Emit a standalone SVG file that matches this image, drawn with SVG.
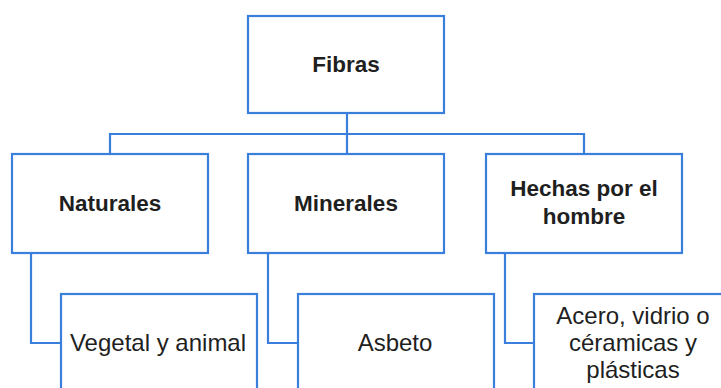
<svg xmlns="http://www.w3.org/2000/svg" width="721" height="388" viewBox="0 0 721 388">
<style>
.box{fill:#ffffff;stroke:#3b7fdc;stroke-width:2.2}
.con{fill:none;stroke:#3b7fdc;stroke-width:2.2}
text{font-family:"Liberation Sans",Arial,sans-serif;font-size:24px;fill:#1f1f1f;text-anchor:middle}
.b{font-weight:bold;font-size:22.5px}
</style>
<rect width="721" height="388" fill="#ffffff"/>
<g id="connectors">
<path class="con" d="M347 113 V154 M110 154 V134 H584 V154"/>
<path class="con" d="M31 253 V343 H61"/>
<path class="con" d="M268 253 V343 H298"/>
<path class="con" d="M505 253 V343 H534"/>
</g>
<g id="fibras"><rect class="box" x="248" y="16" width="196" height="97"/><text class="b" x="346" y="72">Fibras</text></g>
<g id="naturales"><rect class="box" x="12" y="154" width="196" height="99"/><text class="b" x="110" y="211">Naturales</text></g>
<g id="minerales"><rect class="box" x="248" y="154" width="196" height="99"/><text class="b" x="346" y="211">Minerales</text></g>
<g id="hechas"><rect class="box" x="486" y="154" width="196" height="99"/><text class="b" x="584" y="196">Hechas por el</text><text class="b" x="584" y="224">hombre</text></g>
<g id="vegetal"><rect class="box" x="61" y="294" width="196" height="110"/><text x="158" y="351">Vegetal y animal</text></g>
<g id="asbeto"><rect class="box" x="298" y="294" width="196" height="110"/><text x="395" y="351">Asbeto</text></g>
<g id="acero"><rect class="box" x="534" y="294" width="196" height="110"/><text x="633" y="324">Acero, vidrio o</text><text x="633" y="351">céramicas y</text><text x="633" y="378">plásticas</text></g>
</svg>
